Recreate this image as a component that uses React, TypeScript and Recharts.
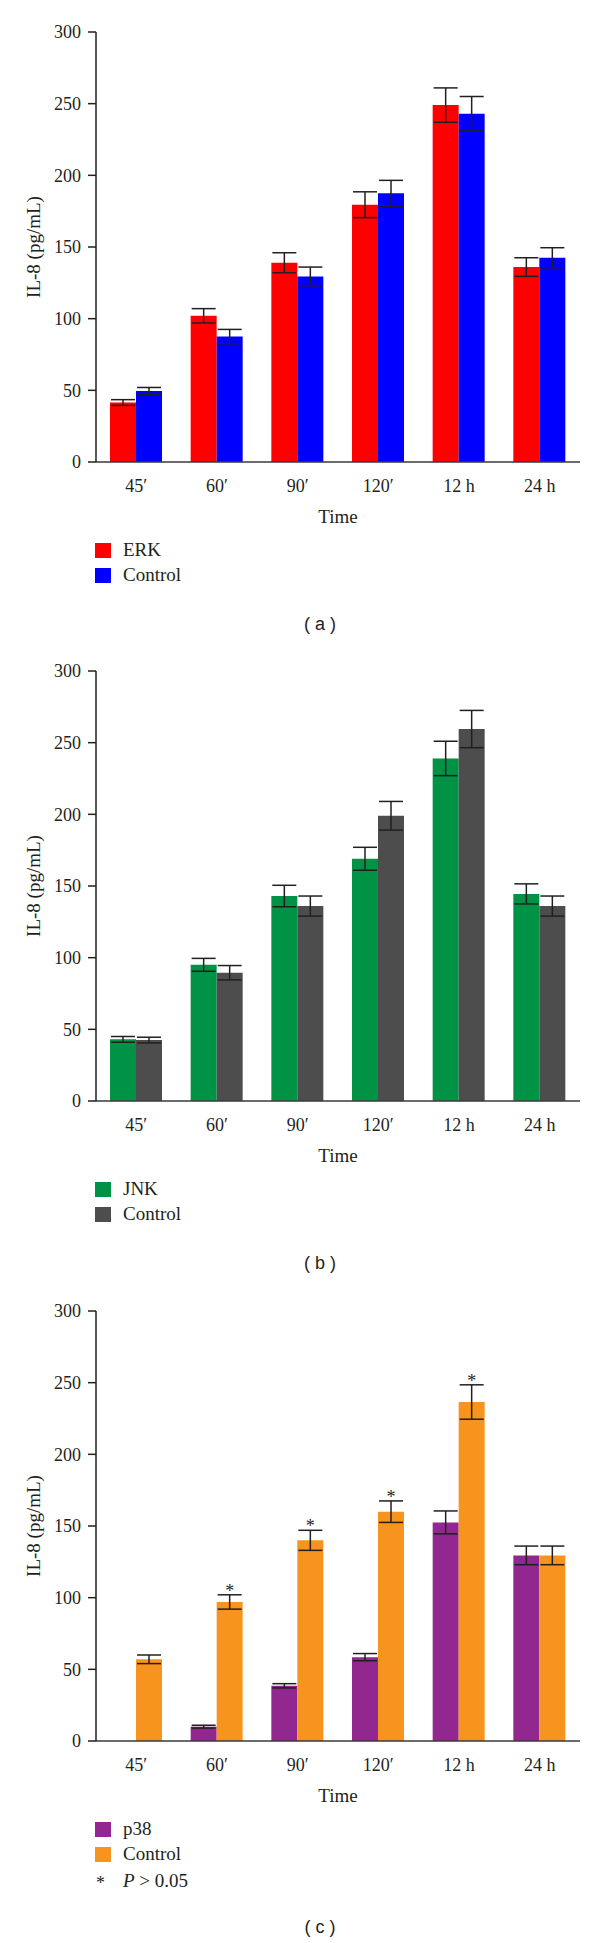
import { Bar, BarChart, ErrorBar, LabelList, XAxis, YAxis } from 'recharts';

// Time points
const times = ['45′', '60′', '90′', '120′', '12 h', '24 h'];
const yTicks = [0, 50, 100, 150, 200, 250, 300];

// (a) ERK vs control
const erk = [41.5, 102, 139, 179.5, 249, 136];
const erkErr = [2, 5, 7, 9, 12, 6.5];
const ctrlA = [49.5, 87.5, 129.5, 187.5, 243, 142.5];
const ctrlAErr = [2.5, 5, 6.5, 9, 12, 7];

// (b) JNK vs control
const jnk = [43, 95, 143, 169, 239, 144.5];
const jnkErr = [2, 4.5, 7.5, 8, 12, 7];
const ctrlB = [42.5, 89.5, 136, 199, 259.5, 136];
const ctrlBErr = [2, 5, 7, 10, 13, 7];

// (c) p38 vs control, * marks P > 0.05
const p38 = [null, 10, 38.5, 58.5, 152.5, 129.5];
const p38Err = [0, 1, 1.5, 2.5, 8, 6.5];
const ctrlC = [57, 97, 140, 160, 236.5, 129.5];
const ctrlCErr = [3, 5, 7, 7.5, 12, 6.5];
const stars = ['', '*', '*', '*', '*', ''];

const SERIF = '"Liberation Serif", "Times New Roman", serif';
const INK = '#231F20';

interface PanelProps {
  top: number;
  name: string;
  color: string;
  ctrlColor: string;
  vals: (number | null)[];
  errs: number[];
  ctrl: number[];
  ctrlErr: number[];
  caption: string;
  withStars?: boolean;
}

function Panel({ top, name, color, ctrlColor, vals, errs, ctrl, ctrlErr, caption, withStars }: PanelProps) {
  const data = times.map((t, i) => ({
    time: t,
    v: vals[i],
    vErr: errs[i],
    c: ctrl[i],
    cErr: ctrlErr[i],
    star: withStars ? stars[i] : '',
  }));

  // axis line sits 462px below the panel top
  const axisY = top + 462;

  const renderStar = (props: any) => {
    const { x, y, width, height, value, index } = props;
    if (!value) return null;
    const perUnit = height / ctrl[index];
    const capY = y - ctrlErr[index] * perUnit;
    return (
      <text
        x={x + width / 2}
        y={capY + 2}
        textAnchor="middle"
        fontFamily={SERIF}
        fontSize={18}
        fill={INK}
      >
        {value}
      </text>
    );
  };

  return (
    <>
      <div style={{ position: 'absolute', left: 0, top }}>
        <BarChart
          width={600}
          height={528}
          data={data}
          margin={{ top: 32, right: 20, bottom: 5, left: 10 }}
          barSize={26}
          barGap={0}
        >
          <XAxis
            dataKey="time"
            tickLine={false}
            tickMargin={11}
            axisLine={{ stroke: '#3a3a3a', strokeWidth: 1.5 }}
            tick={{ fill: INK, fontFamily: SERIF, fontSize: 18 }}
            height={61}
            label={{
              value: 'Time',
              position: 'insideBottom',
              offset: 0,
              fill: INK,
              fontFamily: SERIF,
              fontSize: 19,
            }}
          />
          <YAxis
            domain={[0, 300]}
            ticks={yTicks}
            width={86}
            tickSize={8}
            tickMargin={7}
            tickLine={{ stroke: INK, strokeWidth: 1.5 }}
            axisLine={{ stroke: INK, strokeWidth: 1.5 }}
            tick={{ fill: INK, fontFamily: SERIF, fontSize: 18 }}
            label={{
              value: 'IL-8 (pg/mL)',
              angle: -90,
              position: 'insideLeft',
              offset: 23,
              fill: INK,
              fontFamily: SERIF,
              fontSize: 19,
              style: { textAnchor: 'middle' },
            }}
          />
          <Bar dataKey="v" fill={color} isAnimationActive={false}>
            <ErrorBar dataKey="vErr" width={12} stroke={INK} strokeWidth={1.5} />
          </Bar>
          <Bar dataKey="c" fill={ctrlColor} isAnimationActive={false}>
            <ErrorBar dataKey="cErr" width={12} stroke={INK} strokeWidth={1.5} />
            {withStars && <LabelList dataKey="star" content={renderStar} />}
          </Bar>
        </BarChart>
      </div>

      {/* Legend */}
      {[
        { label: name, fill: color, dy: 81 },
        { label: 'Control', fill: ctrlColor, dy: 106 },
      ].map((item) => (
        <div key={item.label}>
          <div
            style={{
              position: 'absolute',
              left: 95,
              top: axisY + item.dy,
              width: 16,
              height: 15,
              backgroundColor: item.fill,
            }}
          />
          <div
            style={{
              position: 'absolute',
              left: 123,
              top: axisY + item.dy - 4,
              fontFamily: SERIF,
              fontSize: 19,
              lineHeight: '22px',
              color: INK,
              whiteSpace: 'nowrap',
            }}
          >
            {item.label}
          </div>
        </div>
      ))}
      {withStars && (
        <>
          <div
            style={{
              position: 'absolute',
              left: 96,
              top: axisY + 131,
              fontFamily: SERIF,
              fontSize: 18,
              lineHeight: '22px',
              color: INK,
            }}
          >
            *
          </div>
          <div
            style={{
              position: 'absolute',
              left: 123,
              top: axisY + 129,
              fontFamily: SERIF,
              fontSize: 19,
              lineHeight: '22px',
              color: INK,
              whiteSpace: 'nowrap',
            }}
          >
            <i>P</i> &gt; 0.05
          </div>
        </>
      )}

      {/* Caption */}
      <div
        style={{
          position: 'absolute',
          left: 270,
          width: 100,
          textAlign: 'center',
          top: axisY + (withStars ? 186 : 162) - 11,
          fontFamily: '"Liberation Sans", Arial, sans-serif',
          fontSize: 18,
          lineHeight: '22px',
          color: INK,
          whiteSpace: 'pre',
        }}
      >
        {caption}
      </div>
    </>
  );
}

export default function App() {
  return (
    <div
      style={{
        position: 'absolute',
        left: 0,
        top: 0,
        width: 600,
        height: 1943,
        backgroundColor: '#FFFFFF',
        overflow: 'hidden',
      }}
    >
      <Panel
        top={0}
        name="ERK"
        color="#FF0000"
        ctrlColor="#0000FF"
        vals={erk}
        errs={erkErr}
        ctrl={ctrlA}
        ctrlErr={ctrlAErr}
        caption="( a )"
      />
      <Panel
        top={639}
        name="JNK"
        color="#009245"
        ctrlColor="#4D4D4D"
        vals={jnk}
        errs={jnkErr}
        ctrl={ctrlB}
        ctrlErr={ctrlBErr}
        caption="( b )"
      />
      <Panel
        top={1279}
        name="p38"
        color="#92278F"
        ctrlColor="#F7941D"
        vals={p38}
        errs={p38Err}
        ctrl={ctrlC}
        ctrlErr={ctrlCErr}
        caption="( c )"
        withStars
      />
    </div>
  );
}
